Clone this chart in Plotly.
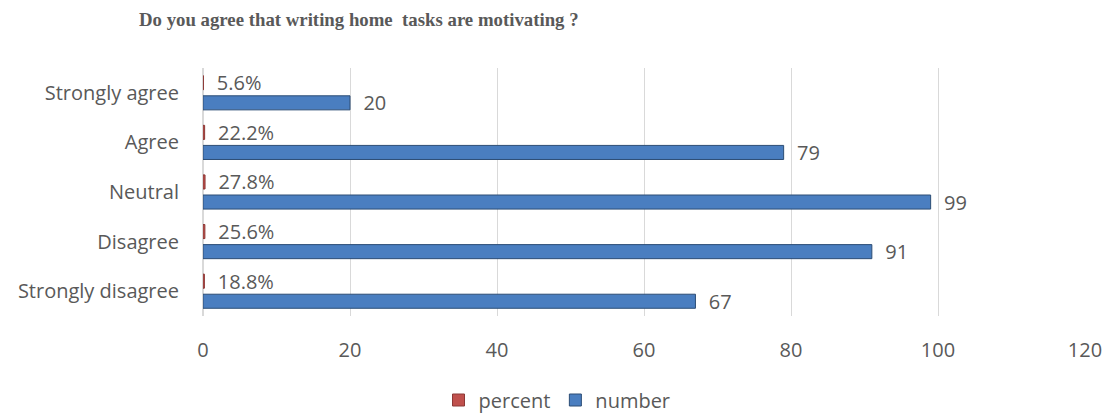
import plotly.graph_objects as go

categories = ["Strongly disagree", "Disagree", "Neutral", "Agree", "Strongly agree"]
number = [67, 91, 99, 79, 20]
percent = [0.188, 0.256, 0.278, 0.222, 0.056]
x_ticks = [0, 20, 40, 60, 80, 100, 120]

title_text = "Do you agree that writing home  tasks are motivating ?"
font_family = "Open Sans, Liberation Sans, sans-serif"
grey = "#595959"

W, H = 1102, 414
L, R, T, B = 203, 17, 68, 98
plot_w, plot_h = W - L - R, H - T - B

fig = go.Figure()

# number series: lower bar in each category group
fig.add_trace(go.Bar(
    y=categories, x=number, orientation="h", name="number",
    marker=dict(color="#4a7ec0", line=dict(color="#2c4d75", width=1)),
    textposition="outside", texttemplate="  %{x}", cliponaxis=False,
    constraintext="none",
    textfont=dict(family=font_family, size=20, color=grey),
    legendrank=2,
))

# percent series: upper bar in each group (values are fractions, so bars are hairlines)
fig.add_trace(go.Bar(
    y=categories, x=percent, orientation="h", name="percent",
    marker=dict(color="#c0504d", line=dict(color="#8c3836", width=1)),
    text=[f"{v*100:.1f}%" for v in percent], textposition="outside",
    texttemplate="  %{text}", cliponaxis=False, constraintext="none",
    textfont=dict(family=font_family, size=20, color=grey),
    legendrank=1,
))

fig.update_layout(
    width=W, height=H,
    margin=dict(l=L, r=R, t=T, b=B, autoexpand=False),
    paper_bgcolor="white", plot_bgcolor="white",
    barmode="group", bargap=0.19, bargroupgap=0.3,
    font=dict(family=font_family, size=20, color=grey),
    showlegend=True,
    legend=dict(orientation="h", x=(557 - L) / plot_w,
                xanchor="center", y=14 / H, yref="container", yanchor="middle",
                font=dict(family=font_family, size=20, color=grey),
                itemwidth=30, traceorder="normal", tracegroupgap=0),
    annotations=[dict(text=f"<b>{title_text}</b>",
                      x=(137 - L) / plot_w, xref="paper", xanchor="left",
                      y=1 + (T - 20) / plot_h, yref="paper", yanchor="middle",
                      showarrow=False,
                      font=dict(family="Liberation Serif, Times New Roman, serif",
                                size=18.8, color=grey))],
)

fig.update_xaxes(range=[0, 120], tickvals=x_ticks, showgrid=True, gridcolor="#d9d9d9",
                 gridwidth=1, zeroline=True, zerolinecolor="#d9d9d9", showline=False,
                 tickfont=dict(family=font_family, size=20, color=grey), ticklen=0,
                 ticks="", ticklabelstandoff=20, ticklabeloverflow="allow",
                 fixedrange=True)
fig.update_yaxes(categoryorder="array", categoryarray=categories, showgrid=False,
                 showline=False, ticks="", ticklen=0, ticklabelstandoff=23,
                 tickfont=dict(family=font_family, size=20, color=grey))

fig.write_html("out.html")
